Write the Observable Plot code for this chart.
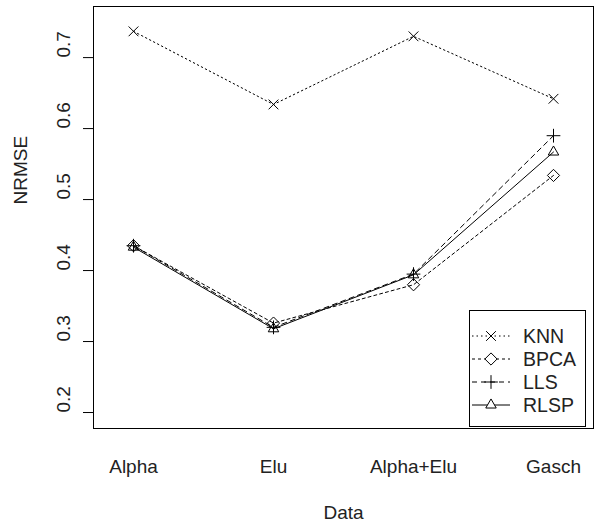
<!DOCTYPE html>
<html>
<head>
<meta charset="utf-8">
<script src="https://cdn.jsdelivr.net/npm/d3@7"></script>
<script src="https://cdn.jsdelivr.net/npm/@observablehq/plot@0.6"></script>
<style>
  html, body { margin: 0; padding: 0; background: #fff; }
  #chart { width: 600px; height: 531px; }
</style>
</head>
<body>
<div id="chart"></div>
<script>
const categories = ["Alpha", "Elu", "Alpha+Elu", "Gasch"];
const knn  = [0.737, 0.634, 0.730, 0.642];
const bpca = [0.435, 0.326, 0.380, 0.534];
const lls  = [0.435, 0.320, 0.395, 0.590];
const rlsp = [0.433, 0.318, 0.394, 0.567];
const yTicks = [0.2, 0.3, 0.4, 0.5, 0.6, 0.7];
const seriesNames = ["KNN", "BPCA", "LLS", "RLSP"];

const seriesValues = [knn, bpca, lls, rlsp];
const styles = {
  KNN:  {dash: "1.5,3", symbol: "times", r: 4.5},
  BPCA: {dash: "3,3", symbol: "diamond2", r: 5.5},
  LLS:  {dash: "5,4", symbol: "plus", r: 4.5},
  RLSP: {dash: null, symbol: "triangle2", r: 5}
};
const font = "'Liberation Sans', Arial, sans-serif";

const marks = [Plot.frame({stroke: "#000"})];
seriesNames.forEach((name, i) => {
  const rows = categories.map((c, j) => ({cat: c, v: seriesValues[i][j]}));
  const st = styles[name];
  marks.push(Plot.line(rows, {x: "cat", y: "v", stroke: "#000", strokeWidth: 1,
    strokeDasharray: st.dash || undefined}));
  marks.push(Plot.dot(rows, {x: "cat", y: "v", symbol: st.symbol, r: st.r,
    stroke: "#000", fill: "none", strokeWidth: 1}));
});
marks.push(Plot.axisY({ticks: yTicks, tickSize: 10, tickFormat: () => "", label: null, stroke: "#000"}));
marks.push(Plot.text(yTicks, {y: d => d, text: d => d.toFixed(1), frameAnchor: "left",
  dx: -30, rotate: -90, fontSize: 19, fill: "#222"}));
marks.push(Plot.text(categories, {x: d => d, text: d => d, frameAnchor: "bottom",
  dy: 44, fontSize: 19, fill: "#222"}));
marks.push(Plot.text(["Data"], {text: d => d, frameAnchor: "bottom", dy: 90, fontSize: 19, fill: "#222"}));
marks.push(Plot.text(["NRMSE"], {text: d => d, frameAnchor: "left", dx: -73, dy: -13,
  rotate: -90, fontSize: 19, fill: "#222"}));

const chart = Plot.plot({
  width: 600,
  height: 531,
  marginLeft: 93,
  marginRight: 7,
  marginTop: 6,
  marginBottom: 103,
  style: {fontFamily: font, background: "#fff", color: "#000"},
  x: {type: "point", domain: categories, padding: 0.282, axis: null},
  y: {domain: [0.1775, 0.772], axis: null},
  marks
});
document.getElementById("chart").appendChild(chart);

// Legend inside plot area (bottom-right)
const svg = d3.select(chart);
const lg = svg.append("g").attr("font-family", font).attr("font-size", 19.5);
lg.append("rect").attr("x", 469.5).attr("y", 310.5).attr("width", 116).attr("height", 116)
  .attr("fill", "#fff").attr("stroke", "#000");
const symGen = {
  times: d3.symbolTimes, diamond2: d3.symbolDiamond2, plus: d3.symbolPlus, triangle2: d3.symbolTriangle2
};
seriesNames.forEach((name, i) => {
  const yy = 336 + i * 23;
  const st = styles[name];
  const line = lg.append("line").attr("x1", 472).attr("x2", 510).attr("y1", yy).attr("y2", yy)
    .attr("stroke", "#000").attr("stroke-width", 1);
  if (st.dash) line.attr("stroke-dasharray", st.dash);
  lg.append("path").attr("d", d3.symbol(symGen[st.symbol], st.r * st.r * Math.PI)())
    .attr("transform", `translate(491,${yy})`).attr("fill", "#fff").attr("stroke", "#000");
  lg.append("text").attr("x", 523).attr("y", yy).attr("dy", "0.35em")
    .attr("text-anchor", "start").attr("fill", "#222").text(name);
});
</script>
</body>
</html>
